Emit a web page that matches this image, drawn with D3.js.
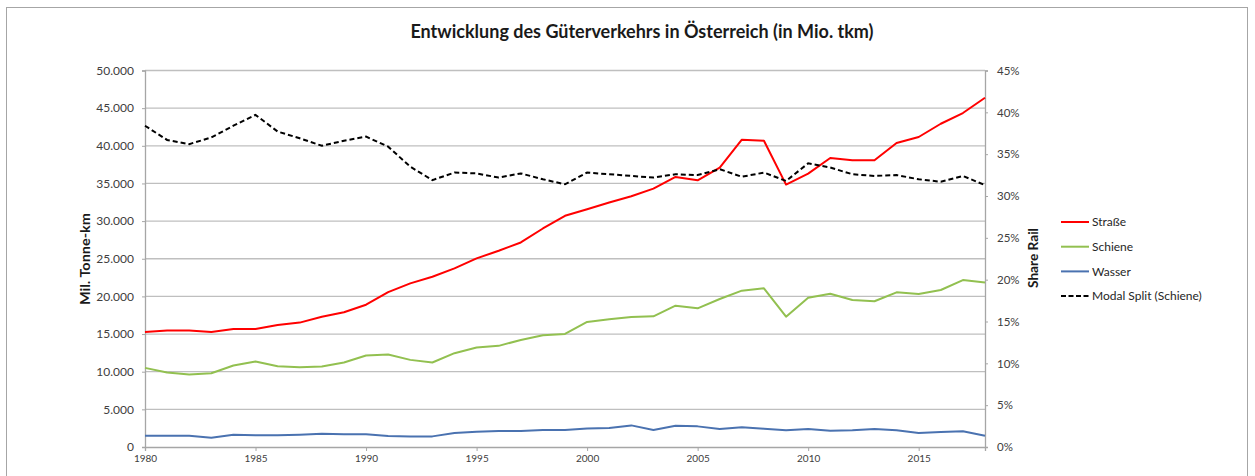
<!DOCTYPE html>
<html>
<head>
<meta charset="utf-8">
<style>
  body { margin: 0; background: #fff; }
  svg text { font-family: Lato, "Open Sans", sans-serif; }
</style>
</head>
<body>
<svg id="chart" width="1255" height="476"></svg>
<script src="https://cdn.jsdelivr.net/npm/d3@7/dist/d3.min.js"></script>
<script>
// years 1980 - 2018
var years = d3.range(1980, 2019);

// Mio. tkm
var strasse = [15280, 15460, 15460, 15280, 15680, 15680, 16210, 16520, 17300, 17890,
               18900, 20560, 21730, 22615, 23720, 25045, 26060, 27165, 29020, 30700,
               31580, 32465, 33300, 34320, 35870, 35420, 37100, 40810, 40680, 34850,
               36310, 38380, 38080, 38080, 40370, 41170, 42930, 44350, 46380];
var schiene = [10510, 9890, 9630, 9800, 10820, 11350, 10730, 10600, 10690, 11220,
               12150, 12280, 11570, 11220, 12460, 13210, 13430, 14220, 14840, 15020,
               16610, 16960, 17270, 17360, 18770, 18420, 19660, 20760, 21070, 17310,
               19830, 20360, 19520, 19350, 20540, 20320, 20850, 22170, 21860];
var wasser = [1500, 1500, 1500, 1240, 1630, 1550, 1550, 1630, 1770, 1680,
              1680, 1460, 1410, 1410, 1850, 2030, 2120, 2120, 2250, 2250,
              2470, 2520, 2870, 2250, 2830, 2740, 2390, 2610, 2430, 2210,
              2390, 2160, 2210, 2390, 2210, 1850, 1990, 2080, 1500];
// share rail (right axis)
var modalSplit = [0.384, 0.367, 0.362, 0.370, 0.384, 0.397, 0.377, 0.369, 0.360, 0.366,
                  0.371, 0.359, 0.335, 0.319, 0.328, 0.327, 0.322, 0.327, 0.320, 0.314,
                  0.328, 0.326, 0.324, 0.322, 0.326, 0.325, 0.332, 0.323, 0.328, 0.318,
                  0.339, 0.334, 0.326, 0.324, 0.325, 0.320, 0.317, 0.324, 0.313];

var leftTicks = d3.range(0, 50001, 5000);
var rightTicks = d3.range(0, 0.451, 0.05);
var xTicks = [1980, 1985, 1990, 1995, 2000, 2005, 2010, 2015];

var seriesNames = ["Straße", "Schiene", "Wasser", "Modal Split (Schiene)"];
var seriesColors = ["#ff0000", "#92c050", "#4a72b0", "#000000"];

var svg = d3.select("#chart");
var pLeft = 145, pRight = 985, pTop = 70.5, pBottom = 447;

var x = d3.scaleLinear().domain([1980, 2018]).range([pLeft, pRight]);
var yL = d3.scaleLinear().domain([0, 50000]).range([pBottom, pTop]);
var yR = d3.scaleLinear().domain([0, 0.45]).range([pBottom, pTop]);

// german number format: 50.000
var de = d3.formatLocale({ decimal: ",", thousands: ".", grouping: [3], currency: ["", " €"] });

svg.append("rect").attr("width", 1255).attr("height", 476).attr("fill", "#fff");
// chart frame
svg.append("rect")
    .attr("x", 6.5).attr("y", 7.5).attr("width", 1241).attr("height", 480)
    .attr("fill", "none").attr("stroke", "#a6a6a6").attr("stroke-width", 1);

// Title
svg.append("text")
    .attr("x", 642).attr("y", 38)
    .attr("text-anchor", "middle")
    .style("font-size", "18px").style("font-weight", "bold")
    .attr("fill", "#1a1a1a")
    .text("Entwicklung des Güterverkehrs in Österreich (in Mio. tkm)");

// gridlines
svg.append("g").selectAll("line")
    .data(leftTicks.slice(1))
    .enter().append("line")
    .attr("x1", pLeft).attr("x2", pRight)
    .attr("y1", function (d) { return yL(d); }).attr("y2", function (d) { return yL(d); })
    .attr("stroke", "#bfbfbf").attr("stroke-width", 1.3);

// left axis
var gl = svg.append("g").attr("transform", "translate(" + pLeft + ",0)")
    .call(d3.axisLeft(yL).tickValues(leftTicks).tickSize(3).tickPadding(8)
        .tickFormat(de.format(",")));
// right axis
var gr = svg.append("g").attr("transform", "translate(" + pRight + ",0)")
    .call(d3.axisRight(yR).tickValues(rightTicks).tickSize(3).tickPadding(9)
        .tickFormat(d3.format(".0%")));
// bottom axis
var gb = svg.append("g").attr("transform", "translate(0," + pBottom + ")")
    .call(d3.axisBottom(x).tickValues(xTicks).tickSize(4).tickPadding(4)
        .tickFormat(d3.format("d")));

[gl, gr, gb].forEach(function (g) {
    g.select(".domain").attr("stroke", "#a6a6a6").attr("stroke-width", 1.3);
    g.selectAll(".tick line").attr("stroke", "#a6a6a6");
    g.selectAll("text").attr("fill", "#404040").style("font-family", "Lato, sans-serif");
});
gl.selectAll("text").style("font-size", "12px");
gr.selectAll("text").style("font-size", "11.5px");
gb.selectAll("text").style("font-size", "10px");

// axis titles
svg.append("text")
    .attr("transform", "translate(89.5,259)rotate(-90)")
    .attr("text-anchor", "middle")
    .attr("textLength", 92).attr("lengthAdjust", "spacingAndGlyphs")
    .style("font-size", "13px").style("font-weight", "bold").attr("fill", "#1a1a1a")
    .text("Mil. Tonne-km");
svg.append("text")
    .attr("transform", "translate(1037.5,258)rotate(-90)")
    .attr("text-anchor", "middle")
    .attr("textLength", 60).attr("lengthAdjust", "spacingAndGlyphs")
    .style("font-size", "13px").style("font-weight", "bold").attr("fill", "#1a1a1a")
    .text("Share Rail");

// lines
var lineL = d3.line()
    .x(function (d, i) { return x(years[i]); })
    .y(function (d) { return yL(d); });
var lineR = d3.line()
    .x(function (d, i) { return x(years[i]); })
    .y(function (d) { return yR(d); });

[wasser, schiene, strasse].forEach(function (s, k) {
    var idx = 2 - k;
    svg.append("path")
        .datum(s)
        .attr("d", lineL)
        .attr("fill", "none")
        .attr("stroke", seriesColors[idx])
        .attr("stroke-width", 2)
        .attr("stroke-linejoin", "round");
});
svg.append("path")
    .datum(modalSplit)
    .attr("d", lineR)
    .attr("fill", "none")
    .attr("stroke", "#000")
    .attr("stroke-width", 2)
    .style("stroke-dasharray", "5,3");

// legend
var lg = svg.append("g").selectAll("g")
    .data(seriesNames)
    .enter().append("g")
    .attr("transform", function (d, i) { return "translate(1061," + (222 + i * 24.7) + ")"; });
lg.append("line")
    .attr("x1", 0).attr("x2", 28)
    .attr("stroke", function (d, i) { return seriesColors[i]; })
    .attr("stroke-width", 2)
    .style("stroke-dasharray", function (d, i) { return i === 3 ? "5,2.5" : null; });
lg.append("text")
    .attr("x", 31).attr("dy", "0.35em")
    .style("font-size", "12px").attr("fill", "#262626")
    .text(function (d) { return d; });
</script>
</body>
</html>
